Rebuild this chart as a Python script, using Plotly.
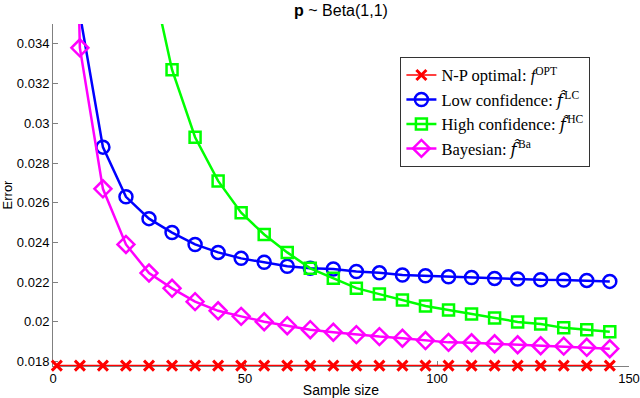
import plotly.graph_objects as go

# sample sizes (x)
sample_size = [1, 7, 13, 19, 25, 31, 37, 43, 49, 55, 61, 67, 73,
               79, 85, 91, 97, 103, 109, 115, 121, 127, 133, 139, 145]

# error curves
err_opt = [0.0178, 0.0178, 0.0178, 0.0178, 0.0178, 0.0178, 0.0178, 0.0178, 0.0178,
           0.0178, 0.0178, 0.0178, 0.0178, 0.0178, 0.0178, 0.0178, 0.0178, 0.0178,
           0.0178, 0.0178, 0.0178, 0.0178, 0.0178, 0.0178, 0.0178]
err_lc = [0.070, 0.0355, 0.0288, 0.0263, 0.0252, 0.0245, 0.0239, 0.0235, 0.0232,
          0.0230, 0.0228, 0.0227, 0.02266, 0.02254, 0.02247, 0.02236, 0.02232, 0.02227,
          0.02224, 0.02219, 0.02216, 0.02212, 0.02211, 0.02209, 0.02204]
err_hc = [0.15, 0.09, 0.06, 0.045, 0.038, 0.0327, 0.0293, 0.0271, 0.0255,
          0.0244, 0.0235, 0.0227, 0.0222, 0.0217, 0.0214, 0.0211, 0.0208, 0.0206,
          0.0204, 0.0202, 0.0200, 0.0199, 0.0197, 0.0196, 0.0195]
err_ba = [0.080, 0.0338, 0.0267, 0.0239, 0.02246, 0.02169, 0.02102, 0.02056, 0.02028,
          0.02001, 0.01981, 0.01961, 0.01948, 0.01936, 0.01926, 0.01918, 0.01906, 0.01897,
          0.01895, 0.0189, 0.01885, 0.0188, 0.01878, 0.01872, 0.01865]

# italic f with a hat, small gap before the superscript
fhat = '<span style="font-family:DejaVu Serif"><i>f\u0302</i></span>\u200a'
names = ["N-P optimal: <i>f</i><sup>OPT</sup>",
         "Low confidence: " + fhat + "<sup>LC</sup>",
         "High confidence: " + fhat + "<sup>HC</sup>",
         "Bayesian: " + fhat + "<sup>Ba</sup>"]

fig = go.Figure()

fig.add_trace(go.Scatter(
    x=sample_size, y=err_opt, name=names[0], mode="lines+markers",
    line=dict(color="#ff0000", width=1.5),
    marker=dict(symbol="x-thin", size=10, line=dict(color="#ff0000", width=3)),
    cliponaxis=False, legendgroup="a"))
fig.add_trace(go.Scatter(
    x=sample_size, y=err_lc, name=names[1], mode="lines+markers",
    line=dict(color="#0000ff", width=2.5),
    marker=dict(symbol="circle-open", size=13, line=dict(color="#0000ff", width=2.5)),
    legendgroup="b"))
fig.add_trace(go.Scatter(
    x=sample_size, y=err_hc, name=names[2], mode="lines+markers",
    line=dict(color="#00ff00", width=2.5),
    marker=dict(symbol="square-open", size=11, line=dict(color="#00ff00", width=2.5)),
    legendgroup="c"))
fig.add_trace(go.Scatter(
    x=sample_size, y=err_ba, name=names[3], mode="lines+markers",
    line=dict(color="#ff00ff", width=2.5),
    marker=dict(symbol="diamond-open", size=13, line=dict(color="#ff00ff", width=2.5)),
    legendgroup="d"))

axis_font = dict(family="Liberation Sans, Arial, sans-serif", size=13, color="black")

fig.update_layout(
    width=640, height=398,
    margin=dict(l=53, r=11, t=24, b=32),
    plot_bgcolor="white", paper_bgcolor="white",
    font=axis_font,
    title=dict(text="<b>p</b> ~ Beta(1,1)", x=0.5, xref="paper", xanchor="center",
               y=0.975, yref="container", yanchor="middle",
               font=dict(family="Liberation Sans, Arial, sans-serif", size=16, color="black")),
    xaxis=dict(range=[0, 150], tickvals=[0, 50, 100, 150], ticks="inside", ticklen=5,
               tickcolor="#808080", showline=True, linecolor="#808080", linewidth=1,
               showgrid=False, zeroline=False, layer="below traces",
               automargin=False, ticklabeloverflow="allow",
               title=dict(text="Sample size", font=dict(size=14), standoff=2)),
    yaxis=dict(range=[0.01778, 0.035],
               tickvals=[0.018, 0.02, 0.022, 0.024, 0.026, 0.028, 0.03, 0.032, 0.034],
               ticktext=["0.018", "0.02", "0.022", "0.024", "0.026", "0.028", "0.03", "0.032", "0.034"],
               ticks="inside", ticklen=5, tickcolor="#808080",
               showline=True, linecolor="#808080", linewidth=1,
               showgrid=False, zeroline=False, layer="below traces",
               automargin=False, ticklabeloverflow="allow",
               title=dict(text="Error", font=dict(size=13), standoff=4)),
    legend=dict(x=0.933, xanchor="right", y=0.904, yanchor="top",
                bgcolor="white", bordercolor="#333333", borderwidth=1,
                tracegroupgap=0,
                font=dict(family="Liberation Serif, Times New Roman, serif", size=16.5, color="black")),
)

# drop the page's default body margin so the figure sits at the window's corner
fig.write_html("out.html", config={"displayModeBar": False},
               post_script="document.body.style.margin='0';")
